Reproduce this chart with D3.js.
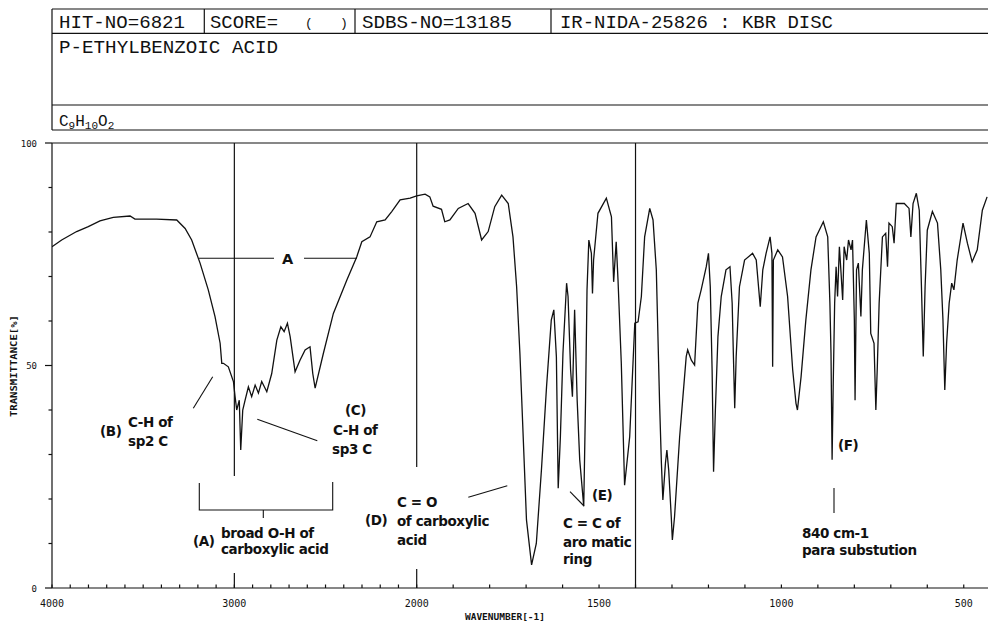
<!DOCTYPE html>
<html><head><meta charset="utf-8">
<script src="https://cdn.jsdelivr.net/npm/d3@7/dist/d3.min.js"></script>
<style>body{margin:0;background:#fff}svg{display:block}</style>
</head><body>
<svg id="c" width="988" height="622"></svg>
<script>
// ---- data ----
const wavenumbers = [4000,3947,3865,3801,3737,3664,3572,3545,3426,3316,3270,3234,3188,3143,3106,3078,3069,3060,3033,3005,2996,2987,2973,2965,2954,2941,2923,2905,2886,2868,2850,2822,2795,2767,2745,2727,2709,2694,2667,2640,2612,2585,2570,2557,2512,2457,2383,2329,2301,2256,2219,2173,2137,2091,2036,2000,
1977,1964,1955,1932,1923,1909,1886,1859,1840,1822,1804,1786,1767,1749,1736,1726,1717,1708,1699,1685,1672,1658,1644,1631,1624,1617,1612,1606,1599,1589,1585,1578,1573,1567,1560,1553,1542,1537,1533,1528,1521,1518,1515,1503,1480,1466,1460,1453,1448,1439,1430,1416,1402,1393,1384,1375,1361,1352,1343,1334,1329,1325,1318,1314,1309,1302,1299,1293,1279,1270,1261,1257,1247,1238,1229,1220,1206,1200,1195,1190,1186,1181,1174,1165,1152,1141,1135,1132,1128,1124,1115,1101,1079,1069,1058,1051,1042,1031,1026,1024,1022,1010,997,983,969,960,956,946,933,919,905,885,873,867,864,861,858,854,850,846,841,837,832,828,821,816,809,805,800,798,794,789,782,778,767,759,755,746,741,737,732,723,714,709,705,696,691,685,663,650,645,639,630,622,616,611,606,600,586,572,563,557,552,547,540,533,527,518,502,490,477,463,449,436];
const transmittance = [76.7,78.2,80.1,81.2,82.5,83.3,83.6,82.9,82.9,82.7,80.8,78.2,73.0,67.0,61.0,55.0,50.5,50.5,49.7,46.4,43.0,40.0,42.2,31.0,40.0,42.2,45.2,43.0,45.6,43.8,46.4,44.1,48.2,55.7,58.7,57.6,59.5,56.5,48.6,51.2,53.5,54.2,48.2,44.9,52.7,61.7,69.2,74.4,77.8,78.9,82.3,82.7,84.6,87.2,87.6,88.1,
88.5,87.9,85.8,85.1,82.3,82.7,85.3,86.4,84.2,78.2,80.1,85.7,88.3,86.4,78.9,67.7,52.7,34.0,15.3,5.2,10.0,26.5,45.2,60.2,62.5,52.0,22.4,34.0,52.7,68.5,65.5,49.0,43.0,62.5,42.2,28.8,18.4,42.2,67.0,78.2,75.2,66.2,73.7,84.2,87.6,83.4,68.8,77.8,69.2,50.5,23.1,34.0,59.5,59.8,65.5,78.9,85.3,82.7,71.5,41.5,28.0,19.8,28.0,31.0,26.5,16.0,10.8,16.0,34.0,43.0,52.0,53.5,51.2,50.1,64.0,67.0,72.2,75.2,67.7,49.0,26.1,40.0,56.5,65.5,71.5,72.2,64.0,53.5,40.4,52.0,67.7,73.7,75.2,73.7,63.2,71.5,75.2,78.9,75.2,49.7,73.7,76.0,74.4,65.5,49.0,41.5,40.0,47.5,60.2,71.5,78.9,82.3,78.9,64.0,52.7,28.8,45.2,64.0,72.2,65.5,76.7,71.5,64.7,76.7,73.7,78.2,76.0,78.2,60.2,42.2,71.5,73.0,61.0,71.5,82.7,75.2,57.2,55.0,40.0,49.7,64.0,78.9,79.7,72.2,82.0,81.2,77.5,86.4,86.4,85.3,78.9,86.4,88.7,84.9,67.7,52.0,67.7,80.4,84.6,82.0,71.5,60.2,44.5,55.0,64.0,68.5,67.0,73.7,82.0,77.5,73.3,76.0,84.9,87.9];
const xTickLabels = [4000,3000,2000,1500,1000,500];
const yTickLabels = [0,50,100];
const markerWavenumbers = [3000,2000,1400];
const headerRow1 = ["HIT-NO=6821","SCORE=","SDBS-NO=13185","IR-NIDA-25826 : KBR DISC"];
const compoundName = "P-ETHYLBENZOIC ACID";
const xTitle = "WAVENUMBER[-1]";
const yTitle = "TRANSMITTANCE[%]";

// ---- layout ----
const svg = d3.select("#c");
const L = 52, T0 = 143, B = 588;
const x = d3.scaleLinear().domain([4000,2000,400]).range([L, 416.7, 416.7+1600*0.3647]);
const y = d3.scaleLinear().domain([0,100]).range([B, T0]);
const ink = "#111";
const mono = "'Liberation Mono', 'DejaVu Sans Mono', monospace";
const mono2 = "'DejaVu Sans Mono', monospace";
const bold = "'DejaVu Sans', 'Liberation Sans', sans-serif";

// header table
const hdr = svg.append("g").attr("stroke", ink).attr("stroke-width", 1.2).attr("fill","none");
[9, 33.3, 105, 130].forEach(yy => hdr.append("line").attr("x1", L).attr("x2", 988).attr("y1", yy).attr("y2", yy));
hdr.append("line").attr("x1", L).attr("x2", L).attr("y1", 9).attr("y2", 130);
[204.3, 355, 551].forEach(xx => hdr.append("line").attr("x1", xx).attr("x2", xx).attr("y1", 9).attr("y2", 33.3));

const hx = [59, 210, 362, 560];
const hw = [126, 68, 150, 273];
headerRow1.forEach((t,i) => {
  svg.append("text").attr("x", hx[i]).attr("y", 28).attr("font-family", mono).attr("font-size", 18)
    .attr("textLength", hw[i]).attr("lengthAdjust","spacingAndGlyphs").attr("fill", ink).text(t);
});
svg.append("text").attr("x", 305).attr("y", 27).attr("font-family", mono).attr("font-size", 13).attr("fill", ink).text("(");
svg.append("text").attr("x", 340).attr("y", 27).attr("font-family", mono).attr("font-size", 13).attr("fill", ink).text(")");
svg.append("text").attr("x", 59).attr("y", 53).attr("font-family", mono).attr("font-size", 18)
  .attr("textLength", 219).attr("lengthAdjust","spacingAndGlyphs").attr("fill", ink).text(compoundName);
const f = svg.append("text").attr("x", 59).attr("y", 126).attr("font-family", mono).attr("font-size", 16).attr("fill", ink);
[["C",0,0],["9",1,3],["H",0,-3],["10",1,3],["O",0,-3],["2",1,3]].forEach(([s,sub,dy]) => {
  const ts = f.append("tspan").attr("dy", dy).text(s);
  if (sub) ts.attr("font-size", 11);
});

// plot frame
const fr = svg.append("g").attr("stroke", ink).attr("stroke-width", 1.2);
fr.append("line").attr("x1", L).attr("x2", 988).attr("y1", T0).attr("y2", T0);
fr.append("line").attr("x1", L).attr("x2", L).attr("y1", T0).attr("y2", B);
fr.append("line").attr("x1", L).attr("x2", 988).attr("y1", B).attr("y2", B);

// y ticks
d3.range(0, 101, 10).forEach(v => {
  const major = v % 50 === 0;
  fr.append("line").attr("x1", L - (major ? 7 : 3.5)).attr("x2", L).attr("y1", y(v)).attr("y2", y(v));
});
yTickLabels.forEach(v => {
  svg.append("text").attr("x", 37).attr("y", y(v) + 3.5).attr("text-anchor","end")
    .attr("font-family", mono2).attr("font-size", 9).attr("fill", ink).text(v);
});
// x ticks
d3.range(400, 4001, 100).forEach(v => {
  const xx = x(v); if (xx > 988) return;
  fr.append("line").attr("x1", xx).attr("x2", xx).attr("y1", B).attr("y2", B - 3.5);
});
xTickLabels.forEach(v => {
  svg.append("text").attr("x", x(v)).attr("y", 607).attr("text-anchor","middle")
    .attr("font-family", mono2).attr("font-size", 10).attr("fill", ink).text(v);
});
svg.append("text").attr("x", 505).attr("y", 620).attr("text-anchor","middle")
  .attr("font-family", mono2).attr("font-size", 9.5).attr("font-weight","bold").attr("fill", ink).text(xTitle);
svg.append("text").attr("transform", "translate(17,366) rotate(-90)").attr("text-anchor","middle")
  .attr("font-family", mono2).attr("font-size", 9).attr("font-weight","bold").attr("fill", ink)
  .attr("textLength", 102).attr("lengthAdjust","spacingAndGlyphs").text(yTitle);

// marker lines (3000 & 2000 broken for labels, 1400 full)
const mk = svg.append("g").attr("stroke", ink).attr("stroke-width", 1.2);
const segs = {3000: [[T0, 476],[573, B]], 2000: [[T0, 467],[569, B]], 1400: [[T0, B]]};
markerWavenumbers.forEach(w => segs[w].forEach(([a,b]) =>
  mk.append("line").attr("x1", x(w)).attr("x2", x(w)).attr("y1", a).attr("y2", b)));

// spectrum
svg.append("defs").append("clipPath").attr("id","clip").append("rect")
  .attr("x", L).attr("y", T0).attr("width", 1000).attr("height", B - T0);
const pts = wavenumbers.map((w,i) => [w, transmittance[i]]);
svg.append("path").datum(pts).attr("clip-path","url(#clip)")
  .attr("fill","none").attr("stroke", ink).attr("stroke-width", 1.3).attr("stroke-linejoin","miter")
  .attr("d", d3.line().x(d => x(d[0])).y(d => y(d[1])));

// annotation pointer lines
const an = svg.append("g").attr("stroke", ink).attr("stroke-width", 1.1).attr("fill","none");
[[199,258.3,274,258.3],[304,258.3,357,258.3],
 [193.3,408.3,212.7,376.7],[257.3,419.3,317.3,440.7],
 [468.3,497.3,507.3,485.7],[570,491.7,584,506],
 [834,488,834,513],
 [263.3,510,263.3,518]].forEach(([a,b,c,d]) =>
  an.append("line").attr("x1",a).attr("y1",b).attr("x2",c).attr("y2",d));
an.append("path").attr("d","M199.3,483 L199.3,510 L332.7,510 L332.7,482");

// annotation texts
const notes = [
  ["A",282,264,14.5],
  ["(B)",100,436,13.5],["C-H of",128,427,13.5],["sp2  C",128,446,13.5],
  ["(C)",345,415,13.5],["C-H of",333,435,13.5],["sp3  C",332,454,13.5],
  ["(A)",193,546,13.5],["broad O-H of",221,538,13.5],["carboxylic acid",221,554,13.5],
  ["C = O",397,507,13.5],["(D)",365,525,13.5],["of carboxylic",397,526,13.5],["acid",397,545,13.5],
  ["(E)",592,500,13.5],["C = C of",563,528,13.5],["aro matic",563,547,13.5],["ring",563,564,13.5],
  ["(F)",838,450,13.5],["840 cm-1",802,538,13.5],["para substution",802,555,13.5]
];
notes.forEach(([t,xx,yy,s]) => svg.append("text").attr("x",xx).attr("y",yy)
  .attr("font-family", bold).attr("font-weight","bold").attr("font-size", s)
  .attr("letter-spacing", -0.4).attr("fill", ink).text(t));
</script>
</body></html>
